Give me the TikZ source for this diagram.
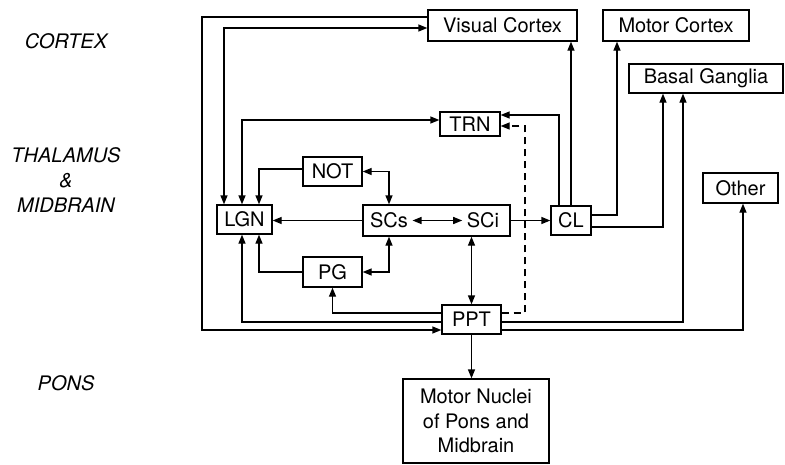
\documentclass[tikz,border=0pt]{standalone}
\usepackage{fontspec}
\setmainfont{TeX Gyre Heros}
\usetikzlibrary{arrows.meta}
\begin{document}
\begin{tikzpicture}[x=1pt,y=-1pt, line width=1.3pt,
  box/.style={draw, rectangle, inner sep=0pt, line width=1.3pt},
  arr/.style={-{Triangle[length=9pt,width=7pt]}},
  arr2/.style={{Triangle[length=9pt,width=7pt]}-{Triangle[length=9pt,width=7pt]}},
  lab/.style={font=\fontsize{20}{25}\selectfont\itshape, align=center},
  font=\fontsize{20}{24.5}\selectfont]
\useasboundingbox (0,0) rectangle (785,464);

% region labels
\node[lab] (cx) at (66,41) {CORTEX};
\node[lab] (th) at (66,180.5) {THALAMUS\\\&\\MIDBRAIN};
\node[lab] (pn) at (66,383) {PONS};

% boxes
\node[box, minimum width=149pt, minimum height=31pt] (VC) at (502.5,25.5) {Visual Cortex};
\node[box, minimum width=146pt, minimum height=31pt] (MC) at (676,25.5) {Motor Cortex};
\node[box, minimum width=154pt, minimum height=29pt] (BG) at (706,78.5) {Basal Ganglia};
\node[box, minimum width=60pt, minimum height=24pt] (TRN) at (470,124) {TRN};
\node[box, minimum width=59pt, minimum height=29pt] (NOT) at (332.5,171.5) {NOT};
\node[box, minimum width=55pt, minimum height=29pt] (LGN) at (244.5,219.5) {LGN};
\node[box, minimum width=147pt, minimum height=31pt] (SC) at (436.5,220.5) {};
\node[inner sep=4pt] (SCs) at (389,220.5) {SCs};
\node[inner sep=4pt] (SCi) at (483,220.5) {SCi};
\node[box, minimum width=40pt, minimum height=29pt] (CL) at (571,220.5) {CL};
\node[box, minimum width=75pt, minimum height=30pt] (OTH) at (740.5,188) {Other};
\node[box, minimum width=59pt, minimum height=30pt] (PG) at (332.5,272) {PG};
\node[box, minimum width=59pt, minimum height=29pt] (PPT) at (471.5,319.5) {PPT};
\node[box, minimum width=146pt, minimum height=84pt, align=center] (MN) at (476,421) {Motor Nuclei\\of Pons and\\Midbrain};

% routing columns
\coordinate (xo) at (202,0);
\coordinate (xd) at (525,0);
\coordinate (a1) at ([yshift=8.5pt]VC.west);
\coordinate (a2) at ([yshift=-10.5pt]PPT.west);
\coordinate (t2) at ([yshift=-2pt]TRN.east);

% Visual cortex -> PPT (outer loop)
\draw[arr] (a1) -| (xo |- a2) -- (a2);
% LGN <-> Visual cortex
\draw[arr2] ([xshift=-20.5pt]LGN.north) |- ([yshift=-2.5pt]VC.west);
% LGN <-> TRN
\draw[arr2] ([xshift=-2.5pt]LGN.north) |- ([yshift=4pt]TRN.west);
% NOT -> LGN
\draw[arr] ([yshift=2.5pt]NOT.west) -| ([xshift=14.5pt]LGN.north);
% NOT <-> SCs
\draw[arr2] (NOT.east) -| ([xshift=-47.5pt]SC.north);
% SCs -> LGN
\draw[arr] (SC.west) -- (SC.west -| LGN.east);
% PG -> LGN
\draw[arr] (PG.west) -| ([xshift=14.5pt]LGN.south);
% PG <-> SCs
\draw[arr2] (PG.east) -| ([xshift=-47.5pt]SC.south);
% SCs <-> SCi
\draw[arr2] (SCs) -- (SCi);
% SCi <-> PPT
\draw[arr2] (PPT.north |- SC.south) -- (PPT.north);
% PPT -> PG
\draw[arr] ([yshift=6.5pt]PPT.west) -| (PG.south);
% PPT -> LGN
\draw[arr] ([yshift=-2.5pt]PPT.west) -| ([xshift=-2.5pt]LGN.south);
% SCi -> CL
\draw[arr] (SC.east) -- (SC.east -| CL.west);
% CL -> Visual cortex
\draw[arr] (CL.north) -- (CL.north |- VC.south);
% CL -> TRN
\draw[arr] ([xshift=-12pt]CL.north) |- ([yshift=9pt]TRN.east);
% PPT -> TRN (dashed)
\draw[arr, dashed, dash pattern=on 7pt off 5pt] ([yshift=6.5pt]PPT.east) -| (xd |- t2) -- (t2);
% CL -> Motor cortex
\draw[arr] ([yshift=5.5pt]CL.east) -| ([xshift=-59pt]MC.south);
% CL -> Basal ganglia
\draw[arr] ([yshift=-6.5pt]CL.east) -| ([xshift=-43pt]BG.south);
% PPT -> Basal ganglia
\draw[arr] ([yshift=-2.5pt]PPT.east) -| ([xshift=-23pt]BG.south);
% PPT -> Other
\draw[arr] ([yshift=-10.5pt]PPT.east) -| ([xshift=2.5pt]OTH.south);
% PPT -> Motor nuclei
\draw[arr] (PPT.south) -- (PPT.south |- MN.north);
\end{tikzpicture}
\end{document}
